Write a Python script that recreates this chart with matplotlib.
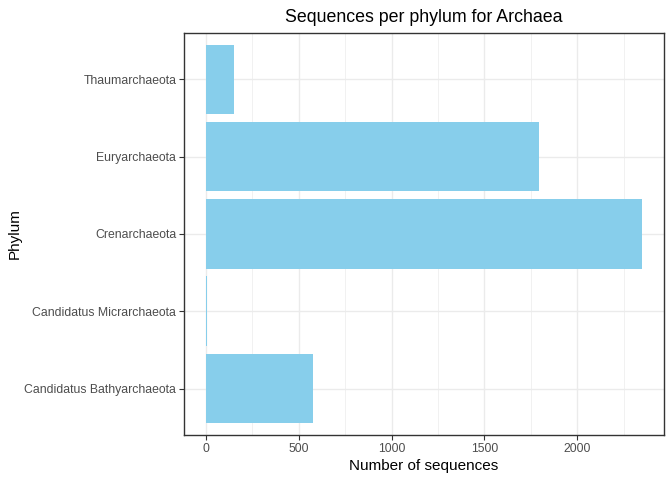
import matplotlib
matplotlib.use("Agg")
import matplotlib.pyplot as plt
from matplotlib.ticker import MultipleLocator

plt.rcParams['font.family'] = ['Liberation Sans', 'DejaVu Sans']

# data
phyla = ["Candidatus Bathyarchaeota", "Candidatus Micrarchaeota",
         "Crenarchaeota", "Euryarchaeota", "Thaumarchaeota"]
counts = [577, 5, 2350, 1795, 151]

fig = plt.figure(figsize=(6.72, 4.8), dpi=100)
ax = fig.add_axes([0.2738, 0.0938, 0.7143, 0.8375])

ypos = list(range(len(phyla)))
ax.barh(ypos, counts, height=0.9, color="#87CEEB", zorder=2)

top = max(counts)
ax.set_xlim(-0.05 * top, top * 1.05)
ax.set_ylim(-0.6, len(phyla) - 1 + 0.6)

ax.xaxis.set_major_locator(MultipleLocator(500))
ax.xaxis.set_minor_locator(MultipleLocator(250))
ax.set_yticks(ypos)
ax.set_yticklabels(phyla)

ax.grid(True, which="major", color="#EBEBEB", linewidth=1.0, zorder=0)
ax.grid(True, which="minor", axis="x", color="#EBEBEB", linewidth=0.5, zorder=0)
ax.set_axisbelow(True)

for s in ax.spines.values():
    s.set_color("#333333")
    s.set_linewidth(1.0)

ax.tick_params(which="major", length=3.5, width=0.8, color="#333333",
               labelcolor="#4D4D4D", labelsize=8.8, pad=2)
ax.tick_params(which="minor", length=0)

ax.set_xlabel("Number of sequences", fontsize=11, color="black", labelpad=3)
ax.set_ylabel("Phylum", fontsize=11, color="black", labelpad=2)
ax.set_title("Sequences per phylum for Archaea", fontsize=12.8, color="black", pad=8)

fig.savefig("out.png", dpi=100)
